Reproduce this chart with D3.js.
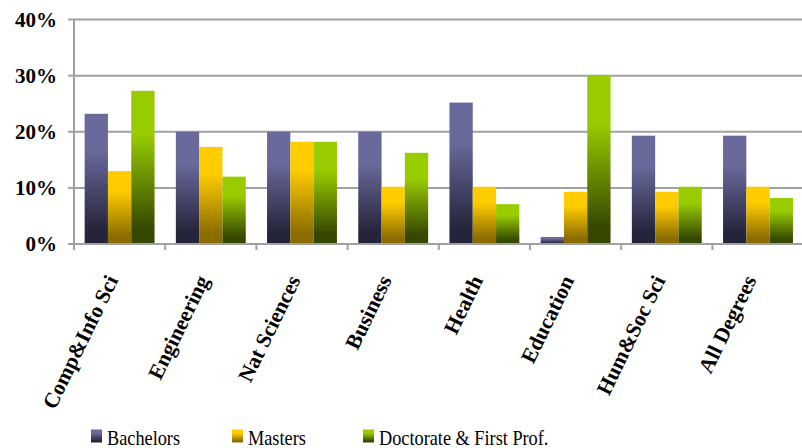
<!DOCTYPE html>
<html>
<head>
<meta charset="utf-8">
<script src="https://cdn.jsdelivr.net/npm/d3@7"></script>
<style>
  html, body { margin: 0; padding: 0; background: #fff; }
  svg { display: block; }
  text { font-family: "Liberation Serif", "Times New Roman", serif; fill: #000; }
</style>
</head>
<body>
<svg id="chart" width="802" height="448"></svg>
<script>
const categories = ["Comp&Info Sci", "Engineering", "Nat Sciences", "Business", "Health", "Education", "Hum&Soc Sci", "All Degrees"];
const seriesNames = ["Bachelors", "Masters", "Doctorate & First Prof."];
const bachelors = [0.232, 0.200, 0.200, 0.200, 0.252, 0.0125, 0.193, 0.193];
const masters   = [0.130, 0.173, 0.182, 0.102, 0.102, 0.093, 0.093, 0.102];
const doctorate = [0.273, 0.120, 0.182, 0.1625, 0.071, 0.300, 0.102, 0.082];
const yTicks = [0, 0.1, 0.2, 0.3, 0.4];
const seriesValues = [bachelors, masters, doctorate];
const colorsLight = ["#69699c", "#ffcc00", "#99cc00"];
const colorsDark  = ["#24243a", "#8a6c00", "#364800"];

const svg = d3.select("#chart");
const plotLeft = 74, plotRight = 803.6, plotTop = 19.5, plotBottom = 244;

const x0 = d3.scaleBand().domain(categories).range([plotLeft, plotRight]).paddingInner(0).paddingOuter(0);
const x1 = d3.scaleBand().domain(seriesNames).range([0, x0.bandwidth()]).paddingInner(0).paddingOuter(0.457);
const y = d3.scaleLinear().domain([0, 0.4]).range([plotBottom, plotTop]);

// gradients
const defs = svg.append("defs");
seriesNames.forEach((s, i) => {
  const g = defs.append("linearGradient").attr("id", "grad" + i)
    .attr("x1", 0).attr("y1", 0).attr("x2", 0).attr("y2", 1);
  g.append("stop").attr("offset", "0").attr("stop-color", colorsLight[i]);
  g.append("stop").attr("offset", "0.28").attr("stop-color", colorsLight[i]);
  g.append("stop").attr("offset", "0.9").attr("stop-color", colorsDark[i]);
  g.append("stop").attr("offset", "1").attr("stop-color", colorsDark[i]);
});

const gridColor = "#a0a0a0";

// gridlines
svg.append("g").selectAll("line").data(yTicks.filter(d => d > 0)).join("line")
  .attr("x1", plotLeft).attr("x2", 802)
  .attr("y1", d => y(d)).attr("y2", d => y(d))
  .attr("stroke", gridColor).attr("stroke-width", 2);

// bars
const groups = svg.append("g").selectAll("g").data(categories).join("g")
  .attr("transform", d => `translate(${x0(d)},0)`);
groups.selectAll("rect")
  .data((c, ci) => seriesNames.map((s, si) => ({ s, si, v: seriesValues[si][ci] })))
  .join("rect")
  .attr("x", d => x1(d.s))
  .attr("width", x1.bandwidth())
  .attr("y", d => y(d.v))
  .attr("height", d => y(0) - y(d.v))
  .attr("fill", d => `url(#grad${d.si})`);

// y axis
const yAxis = svg.append("g");
yAxis.append("line").attr("x1", plotLeft).attr("x2", plotLeft).attr("y1", plotTop).attr("y2", plotBottom + 6)
  .attr("stroke", gridColor).attr("stroke-width", 2);
yAxis.selectAll("line.tick").data(yTicks).join("line").attr("class", "tick")
  .attr("x1", plotLeft - 6).attr("x2", plotLeft)
  .attr("y1", d => y(d)).attr("y2", d => y(d))
  .attr("stroke", gridColor).attr("stroke-width", 2);
yAxis.selectAll("text").data(yTicks).join("text")
  .attr("x", 57).attr("y", d => y(d)).attr("dy", "0.34em")
  .attr("text-anchor", "end")
  .attr("font-size", 21).attr("font-weight", "bold")
  .text(d3.format(".0%"));

// x axis
const xAxis = svg.append("g");
xAxis.append("line").attr("x1", plotLeft).attr("x2", 802).attr("y1", plotBottom).attr("y2", plotBottom)
  .attr("stroke", gridColor).attr("stroke-width", 2);
const tickPos = categories.map(c => x0(c)).concat([plotRight]);
xAxis.selectAll("line.tick").data(tickPos).join("line").attr("class", "tick")
  .attr("x1", d => d).attr("x2", d => d).attr("y1", plotBottom).attr("y2", plotBottom + 6)
  .attr("stroke", gridColor).attr("stroke-width", 2);
xAxis.selectAll("text").data(categories).join("text")
  .attr("transform", d => `translate(${x0(d) + x0.bandwidth() / 2 - 1},${280}) rotate(-64)`)
  .attr("text-anchor", "end")
  .attr("font-size", 21.5).attr("font-weight", "bold")
  .text(d => d);

// legend
const legendSquareX = [91, 232, 363];
const legend = svg.append("g");
seriesNames.forEach((s, i) => {
  legend.append("rect").attr("x", legendSquareX[i]).attr("y", 429.5).attr("width", 11).attr("height", 13)
    .attr("fill", `url(#grad${i})`);
  legend.append("text")
    .attr("transform", `translate(${legendSquareX[i] + 16},445) scale(0.85,1)`)
    .attr("font-size", 21.5)
    .text(s);
});
</script>
</body>
</html>
